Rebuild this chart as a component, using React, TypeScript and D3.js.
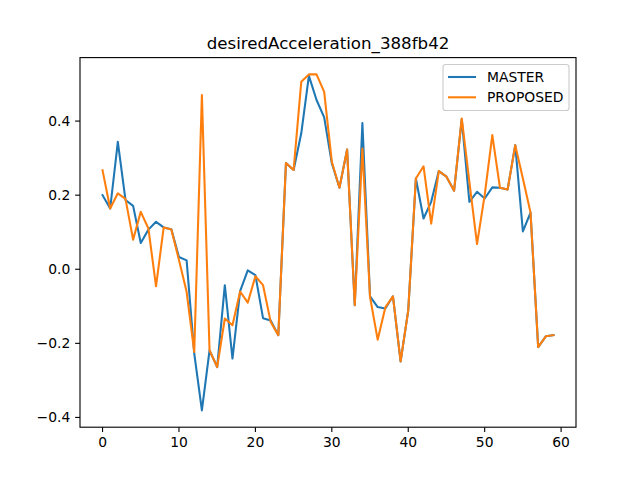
import React from "react";
import * as d3 from "d3";

const title = "desiredAcceleration_388fb42";
const seriesNames = ["MASTER", "PROPOSED"];
const colors = ["#1f77b4", "#ff7f0e"];

const master = [0.200, 0.164, 0.344, 0.187, 0.171, 0.071, 0.107, 0.128, 0.113, 0.108, 0.033, 0.024, -0.228, -0.381, -0.219, -0.264, -0.043, -0.241, -0.059, -0.003, -0.016, -0.132, -0.138, -0.178, 0.287, 0.268, 0.367, 0.522, 0.457, 0.410, 0.286, 0.220, 0.323, -0.097, 0.395, -0.073, -0.102, -0.106, -0.073, -0.249, -0.111, 0.245, 0.137, 0.182, 0.265, 0.250, 0.212, 0.405, 0.182, 0.209, 0.191, 0.221, 0.220, 0.215, 0.335, 0.102, 0.153, -0.210, -0.181, -0.178];

const proposed = [0.267, 0.164, 0.205, 0.190, 0.080, 0.155, 0.110, -0.046, 0.113, 0.107, 0.025, -0.061, -0.223, 0.470, -0.219, -0.264, -0.133, -0.151, -0.060, -0.090, -0.019, -0.043, -0.142, -0.178, 0.287, 0.268, 0.506, 0.526, 0.526, 0.479, 0.290, 0.220, 0.323, -0.097, 0.326, -0.075, -0.190, -0.103, -0.073, -0.249, -0.111, 0.245, 0.278, 0.123, 0.265, 0.250, 0.212, 0.407, 0.236, 0.068, 0.200, 0.362, 0.220, 0.215, 0.335, 0.245, 0.153, -0.210, -0.181, -0.178];

const xTicks = [0, 10, 20, 30, 40, 50, 60];
const yTicks = [-0.4, -0.2, 0.0, 0.2, 0.4];

const W = 640, H = 480;
const L = 80, R = 576, T = 57.6, B = 427.2;
const font = "'DejaVu Sans', sans-serif";

export default function App() {
  const all = [master, proposed];
  const n = master.length;
  const xMin = 0, xMax = n - 1;
  const xm = (xMax - xMin) * 0.05;
  const x = d3.scaleLinear().domain([xMin - xm, xMax + xm]).range([L, R]);
  const yLo = d3.min(all.flat())!, yHi = d3.max(all.flat())!;
  const ym = (yHi - yLo) * 0.05;
  const y = d3.scaleLinear().domain([yLo - ym, yHi + ym]).range([B, T]);
  const line = d3.line<number>().x((_, i) => x(i)).y((d) => y(d));
  const tick = 4.86;
  const fs = 13.89;

  const legX = 443, legY = 64.5, legW = 126, legH = 46;

  return (
    <div style={{ position: "absolute", left: 0, top: 0 }}>
      <svg width={W} height={H} style={{ display: "block", background: "#fff" }}>
        <rect x={0} y={0} width={W} height={H} fill="#fff" />
        <clipPath id="clip">
          <rect x={L} y={T} width={R - L} height={B - T} />
        </clipPath>
        <g clipPath="url(#clip)">
          {all.map((s, k) => (
            <path key={k} d={line(s)!} fill="none" stroke={colors[k]} strokeWidth={2.08} strokeLinejoin="round" strokeLinecap="square" />
          ))}
        </g>
        <rect x={L} y={T} width={R - L} height={B - T} fill="none" stroke="#000" strokeWidth={1.11} />
        {xTicks.map((t) => (
          <g key={t}>
            <line x1={x(t)} x2={x(t)} y1={B} y2={B + tick} stroke="#000" strokeWidth={1.11} />
            <text x={x(t)} y={B + tick + 4.86 + 10.2} textAnchor="middle" fontFamily={font} fontSize={fs} fill="#000">{t}</text>
          </g>
        ))}
        {yTicks.map((t) => (
          <g key={t}>
            <line x1={L - tick} x2={L} y1={y(t)} y2={y(t)} stroke="#000" strokeWidth={1.11} />
            <text x={L - tick - 4.86} y={y(t)} dy="0.36em" textAnchor="end" fontFamily={font} fontSize={fs} fill="#000">{t < 0 ? "\u2212" + Math.abs(t).toFixed(1) : t.toFixed(1)}</text>
          </g>
        ))}
        <text x={(L + R) / 2} y={T - 8.3} textAnchor="middle" fontFamily={font} fontSize={16.67} fill="#000">{title}</text>
        <rect x={legX} y={legY} width={legW} height={legH} rx={2.8} fill="#fff" fillOpacity={0.8} stroke="#cccccc" strokeWidth={1.11} />
        {seriesNames.map((nm, k) => (
          <g key={nm}>
            <line x1={legX + 5} x2={legX + 33} y1={legY + 12.5 + k * 20.3} y2={legY + 12.5 + k * 20.3} stroke={colors[k]} strokeWidth={2.08} />
            <text x={legX + 44} y={legY + 12.5 + k * 20.3} dy="0.36em" fontFamily={font} fontSize={fs} fill="#000">{nm}</text>
          </g>
        ))}
      </svg>
    </div>
  );
}
